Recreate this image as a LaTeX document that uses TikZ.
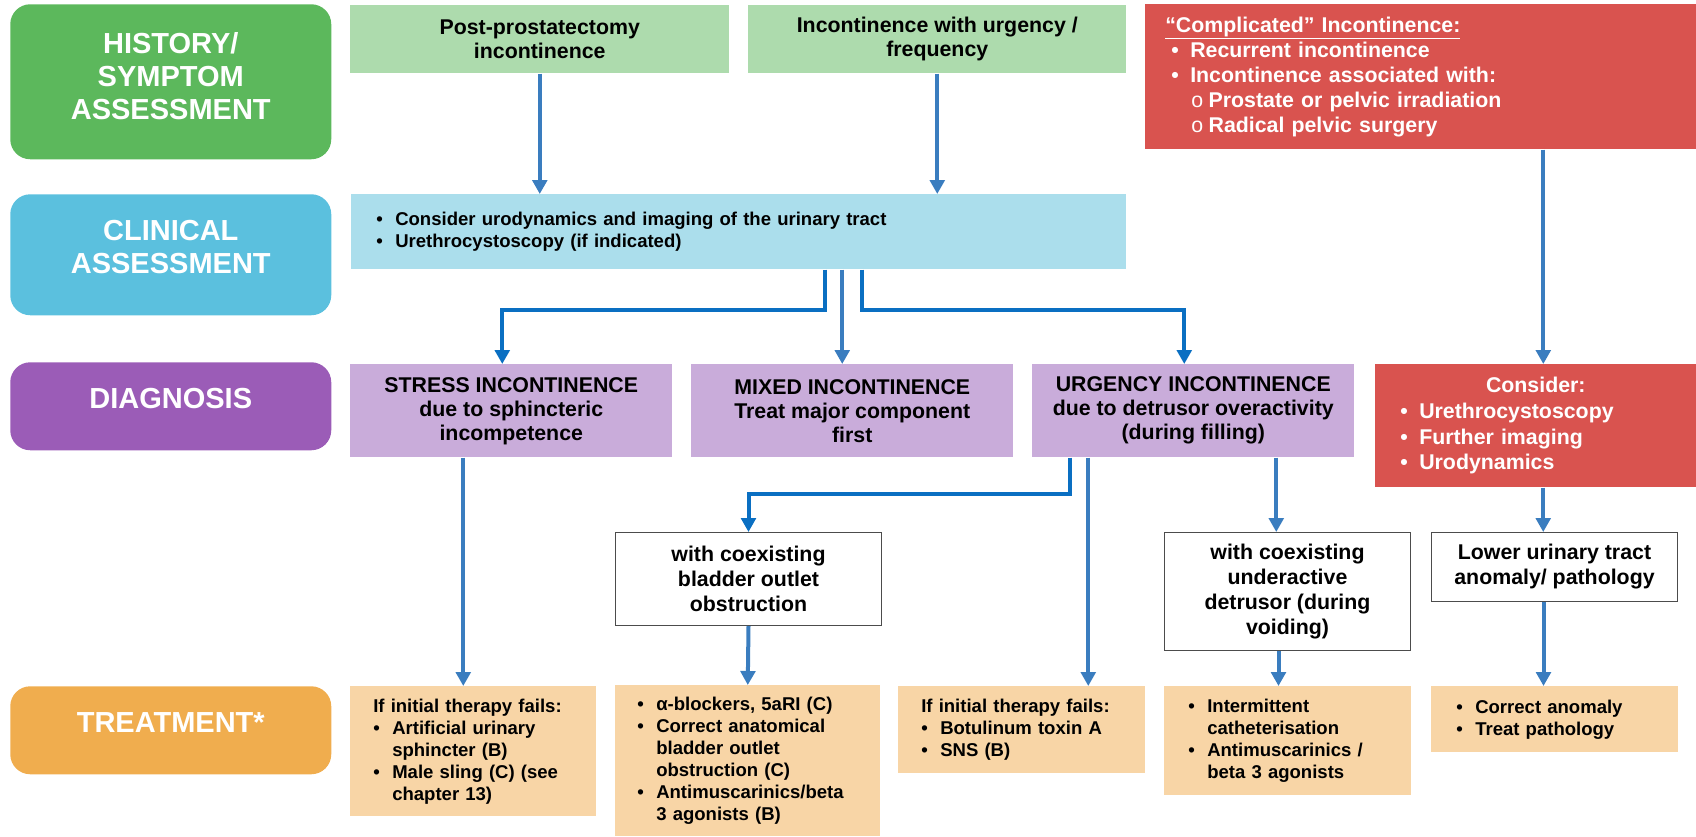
\documentclass[tikz,border=0pt]{standalone}
\usepackage{fontspec}
\setmainfont{Liberation Sans}
\usetikzlibrary{arrows.meta}

\definecolor{histgreen}{HTML}{5CB85C}
\definecolor{clinblue}{HTML}{5BC0DE}
\definecolor{diagpurple}{HTML}{9B5CB7}
\definecolor{treatorange}{HTML}{F0AD4E}
\definecolor{palegreen}{HTML}{ADDBAD}
\definecolor{paleblue}{HTML}{ABDEEC}
\definecolor{lilac}{HTML}{C9ACDA}
\definecolor{alertred}{HTML}{D9534F}
\definecolor{peach}{HTML}{F8D5A6}
\definecolor{steel}{HTML}{3A7DBF}
\definecolor{royal}{HTML}{0A6FC2}

\newcommand{\bul}{\makebox[14.25pt][l]{•}}
\newcommand{\bulgap}{\hspace*{14.25pt}}
\newcommand{\subbul}{\hspace*{19.5pt}\makebox[13pt][l]{\mdseries o}}

\begin{document}
\begin{tikzpicture}[x=0.75pt, y=-0.75pt,
    every node/.style={inner sep=0pt, anchor=north west},
    wh/.style 2 args={minimum width=#1, minimum height=#2},
    stage/.style={fill=#1, rounded corners=15pt},
    stagetext/.style={anchor=center, text=white, align=center, font=\bfseries\fontsize{21.75}{24.75}\selectfont},
    box/.style={fill=#1, font=\bfseries\fontsize{16}{18}\selectfont, align=center},
    outline/.style={draw=black!70, line width=0.75pt, fill=white, font=\bfseries\fontsize{16}{18.75}\selectfont, align=center},
    list/.style={fill=#1, font=\bfseries\fontsize{13.9}{16.5}\selectfont, align=left},
    conn/.style={draw=steel, line width=3pt, -{Triangle[width=11pt, length=10.5pt]}},
    bent/.style={conn, draw=royal},
]
    \useasboundingbox (0,0) rectangle (1696,836);

    % Stage labels on the left
    \node[stage=histgreen, wh={240.75pt}{116.25pt}] (hist) at (10,4) {};
    \node[stage=clinblue, wh={240.75pt}{90.75pt}] (clinstage) at (10,194) {};
    \node[stage=diagpurple, wh={240.75pt}{66pt}] (diagstage) at (10,362) {};
    \node[stage=treatorange, wh={240.75pt}{66pt}] (treatstage) at (10,686) {};
    \node[stagetext] (histtext) at ([yshift=4.5pt]hist.center) {HISTORY/\\SYMPTOM\\ASSESSMENT};
    \node[stagetext] (clintext) at ([yshift=6pt]clinstage.center) {CLINICAL\\ASSESSMENT};
    \node[stagetext] (diagtext) at ([yshift=6pt]diagstage.center) {DIAGNOSIS};
    \node[stagetext] (treattext) at ([yshift=6pt]treatstage.center) {TREATMENT*};

    % History row
    \node[box=palegreen, wh={284.25pt}{51pt}] (post) at (350,5) {Post-prostatectomy\\incontinence};
    \node[box=palegreen, wh={283.5pt}{51pt}] (urgtop) at (748,5) {Incontinence with urgency /\\frequency};
    \node[box=alertred, wh={413.25pt}{108.75pt}, text=white, align=left, text width=383.25pt,
        font=\bfseries\fontsize{16}{18.75}\selectfont] (compl) at (1145,4)
        {\underline{“Complicated” Incontinence:}\\
         \hspace*{4.5pt}\bul Recurrent incontinence\\
         \hspace*{4.5pt}\bul Incontinence associated with:\\
         \subbul Prostate or pelvic irradiation\\
         \subbul Radical pelvic surgery};

    % Clinical assessment
    \node[box=paleblue, wh={581.25pt}{56.25pt}, align=left, text width=543.75pt,
        font=\bfseries\fontsize{13.9}{16.5}\selectfont] (clin) at (351,194)
        {\bul Consider urodynamics and imaging of the urinary tract\\
         \bul Urethrocystoscopy (if indicated)};

    % Diagnosis row
    \node[box=lilac, wh={241.5pt}{69.75pt}] (stress) at (350,364) {STRESS INCONTINENCE\\due to sphincteric\\incompetence};
    \node[box=lilac, wh={241.5pt}{69.75pt}] (mixed) at (691,364) {MIXED INCONTINENCE\\Treat major component\\first};
    \node[box=lilac, wh={241.5pt}{69.75pt}] (urg) at (1032,364) {URGENCY INCONTINENCE\\due to detrusor overactivity\\(during filling)};
    \node[box=alertred, wh={240.75pt}{92.25pt}, text=white, align=left, text width=203.25pt,
        font=\bfseries\fontsize{16}{19.3}\selectfont] (cons) at (1375,364)
        {\makebox[203.25pt][c]{Consider:}\\
         \bul Urethrocystoscopy\\
         \bul Further imaging\\
         \bul Urodynamics};

    % Coexisting conditions
    \node[outline, wh={199.5pt}{69.75pt}] (outlet) at (615,532) {with coexisting\\bladder outlet\\obstruction};
    \node[outline, wh={184.5pt}{88.5pt}] (under) at (1164,532) {with coexisting\\underactive\\detrusor (during\\voiding)};
    \node[outline, wh={184.5pt}{51.75pt}] (lower) at (1431,532) {Lower urinary tract\\anomaly/ pathology};

    % Treatment row
    \node[list=peach, wh={184.5pt}{97.5pt}, text width=150pt] (tstress) at (350,686)
        {If initial therapy fails:\\
         \bul Artificial urinary\\
         \bulgap sphincter (B)\\
         \bul Male sling (C) (see\\
         \bulgap chapter 13)};
    \node[list=peach, wh={198.75pt}{113.25pt}, text width=165.75pt] (toutlet) at (615,685)
        {\bul α-blockers, 5aRI (C)\\
         \bul Correct anatomical\\
         \bulgap bladder outlet\\
         \bulgap obstruction (C)\\
         \bul Antimuscarinics/beta\\
         \bulgap 3 agonists (B)};
    \node[list=peach, wh={185.25pt}{65.25pt}, text width=150.75pt] (turg) at (898,686)
        {If initial therapy fails:\\
         \bul Botulinum toxin A\\
         \bul SNS (B)};
    \node[list=peach, wh={185.25pt}{81.75pt}, text width=149.25pt] (tunder) at (1164,686)
        {\bul Intermittent\\
         \bulgap catheterisation\\
         \bul Antimuscarinics /\\
         \bulgap beta 3 agonists};
    \node[list=peach, wh={185.25pt}{49.5pt}, text width=147.75pt] (tlower) at (1431,686)
        {\bul Correct anomaly\\
         \bul Treat pathology};

    % Connectors
    \draw[conn] (post.south) -- (post.south |- clin.north);
    \draw[conn] (urgtop.south) -- (urgtop.south |- clin.north);
    \draw[conn] ([xshift=91.9pt]compl.south) -- ([xshift=91.9pt]compl.south |- cons.north);
    \draw[bent] ([xshift=64.9pt]clin.south) -- ++(0,40) -| ([xshift=-6.75pt]stress.north);
    \draw[conn] ([xshift=77.6pt]clin.south) -- ([xshift=77.6pt]clin.south |- mixed.north);
    \draw[bent] ([xshift=92.6pt]clin.south) -- ++(0,40) -| ([xshift=-6.75pt]urg.north);
    \draw[conn] ([xshift=-36pt]stress.south) -- ([xshift=-36pt]stress.south |- tstress.north);
    \draw[bent] ([xshift=-92.25pt]urg.south) -- ++(0,36) -| (outlet.north);
    \draw[conn] ([xshift=-78.75pt]urg.south) -- ([xshift=-78.75pt]urg.south |- turg.north);
    \draw[conn] ([xshift=62.25pt]urg.south) -- ([xshift=62.25pt]urg.south |- under.north);
    \draw[conn] (outlet.south) -- (toutlet.north);
    \draw[conn] ([xshift=-6.75pt]under.south) -- ([xshift=-6.75pt]under.south |- tunder.north);
    \draw[conn] ([xshift=5.6pt]cons.south) -- ([xshift=5.6pt]cons.south |- lower.north);
    \draw[conn] ([xshift=-8.25pt]lower.south) -- ([xshift=-8.25pt]lower.south |- tlower.north);
\end{tikzpicture}
\end{document}
